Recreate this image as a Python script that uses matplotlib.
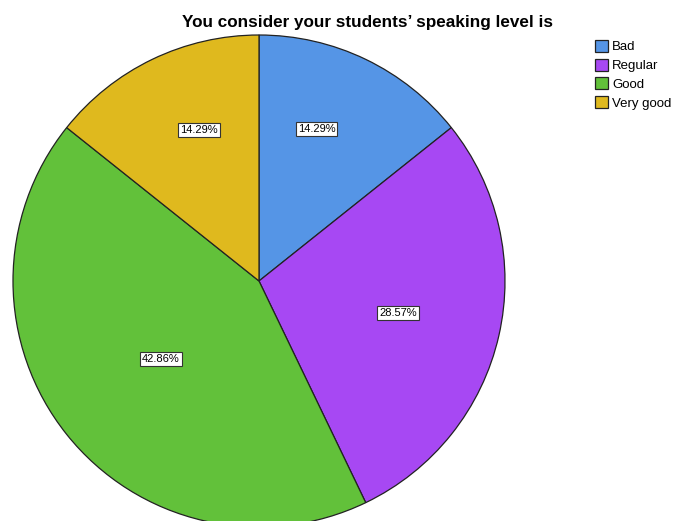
import numpy as np
import matplotlib
matplotlib.use('Agg')
import matplotlib.pyplot as plt

plt.rcParams['font.family'] = ['Liberation Sans', 'DejaVu Sans']

categories = ['Bad', 'Regular', 'Good', 'Very good']
counts = [1, 2, 3, 1]
colors = ['#5595e6', '#a748f3', '#62c13a', '#dfb91e']
label_dist = [0.66, 0.58, 0.51, 0.66]
label_shift = [5, 0, 0, -4]  # degrees, nudges labels like the original

fig = plt.figure(figsize=(6.78, 5.21), dpi=100)
# pie centre ~ (259, 281) px, radius ~246 px
W, H = 678, 521
cx, cy, r = 259, 281, 246
ax = fig.add_axes([(cx - r) / W, (H - cy - r) / H, 2 * r / W, 2 * r / H])

wedges, _ = ax.pie(counts, colors=colors, startangle=90, counterclock=False,
                   radius=1, wedgeprops=dict(edgecolor='#222222', linewidth=0.9))
ax.set_xlim(-1, 1)
ax.set_ylim(-1, 1)
ax.set_aspect('equal')
ax.axis('off')

total = sum(counts)
for w, c, d, s in zip(wedges, counts, label_dist, label_shift):
    ang = np.deg2rad((w.theta1 + w.theta2) / 2 + s)
    ax.text(d * np.cos(ang), d * np.sin(ang), '%.2f%%' % (100.0 * c / total),
            ha='center', va='center', fontsize=8,
            bbox=dict(boxstyle='square,pad=0.18', facecolor='white',
                      edgecolor='#333333', linewidth=0.8))

fig.text(367 / W, 1 - 23 / H, 'You consider your students\u2019 speaking level is',
         ha='center', va='center', fontsize=12.3, fontweight='bold')

fig.legend(wedges, categories, loc='upper left', bbox_to_anchor=(595 / W, 1 - 40 / H),
           frameon=False, fontsize=9.5, handlelength=1.0, handleheight=1.0,
           handletextpad=0.3, labelspacing=0.4, borderaxespad=0, borderpad=0)

fig.savefig('out.png', dpi=100)
